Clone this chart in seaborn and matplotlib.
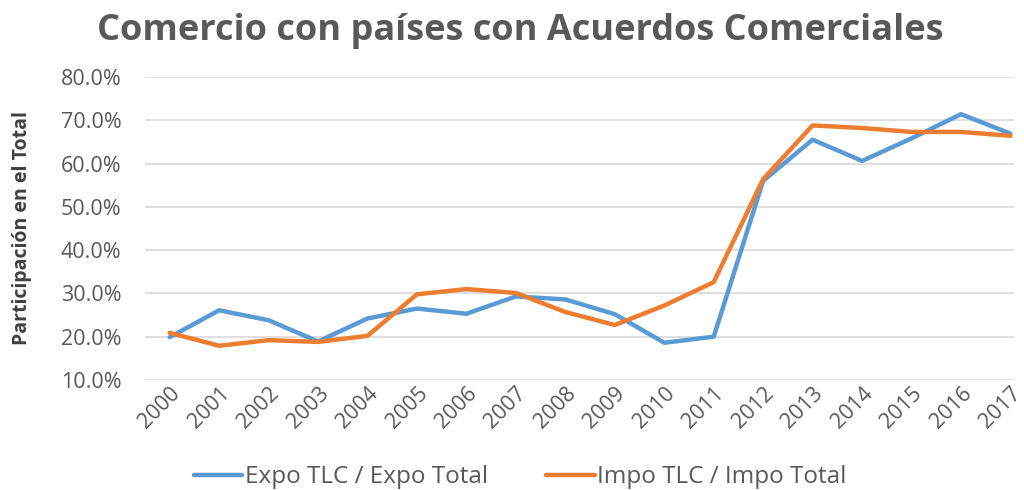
import pandas as pd
import matplotlib.pyplot as plt
import seaborn as sns
from matplotlib.ticker import PercentFormatter

sns.set_theme(style="white")
plt.rcParams['font.family'] = ['Open Sans', 'DejaVu Sans']

# Datos
years = [str(y) for y in range(2000, 2018)]
expo = [19.9, 26.1, 23.8, 18.9, 24.2, 26.5, 25.3, 29.3, 28.6, 25.2,
        18.6, 20.0, 56.0, 65.5, 60.6, 65.8, 71.4, 66.9]
impo = [20.9, 17.9, 19.2, 18.8, 20.2, 29.8, 31.0, 30.1, 25.7, 22.7,
        27.2, 32.6, 56.4, 68.8, 68.2, 67.3, 67.3, 66.4]
series_names = ['Expo TLC / Expo Total', 'Impo TLC / Impo Total']
colors = ['#5B9BD5', '#ED7D31']

df = pd.DataFrame({
    'Año': years * 2,
    'Valor': expo + impo,
    'Serie': [series_names[0]] * len(years) + [series_names[1]] * len(years),
})

fig = plt.figure(figsize=(10.24, 4.9), dpi=100)
ax = fig.add_axes([0.1416, 0.2245, 0.849, 0.6185])

sns.lineplot(data=df, x='Año', y='Valor', hue='Serie', palette=colors,
             linewidth=3.2, sort=False, ax=ax)

ax.set_ylim(10, 80)
ax.set_yticks(range(10, 90, 10))
ax.yaxis.set_major_formatter(PercentFormatter(decimals=1))
ax.set_xlim(-0.5, 17.08)
ax.grid(axis='y', color='#d9d9d9', linewidth=1.2)
ax.grid(axis='x', visible=False)
for s in ax.spines.values():
    s.set_visible(False)

ax.tick_params(axis='y', labelsize=15.5, labelcolor='#595959', length=0, pad=17)
ax.tick_params(axis='x', labelsize=15.5, labelcolor='#595959', length=0, pad=2)
plt.setp(ax.get_xticklabels(), rotation=45, ha='right', rotation_mode='anchor')

ax.set_xlabel('')
ax.set_ylabel('Participación en el Total', fontsize=14, fontweight='bold',
              color='#404040')
ax.yaxis.set_label_coords(-0.13, 0.5)

fig.suptitle('Comercio con países con Acuerdos Comerciales', x=0.508, y=0.973,
             fontsize=26, fontweight='bold', color='#595959')

ax.get_legend().remove()
handles, labels = ax.get_legend_handles_labels()
fig.legend(handles, labels, loc='center', bbox_to_anchor=(0.508, 0.026), ncol=2,
           frameon=False, fontsize=17.5, handlelength=2.0, columnspacing=2.4,
           handletextpad=0.1, labelcolor='#595959')

plt.savefig('out.png', dpi=100)
